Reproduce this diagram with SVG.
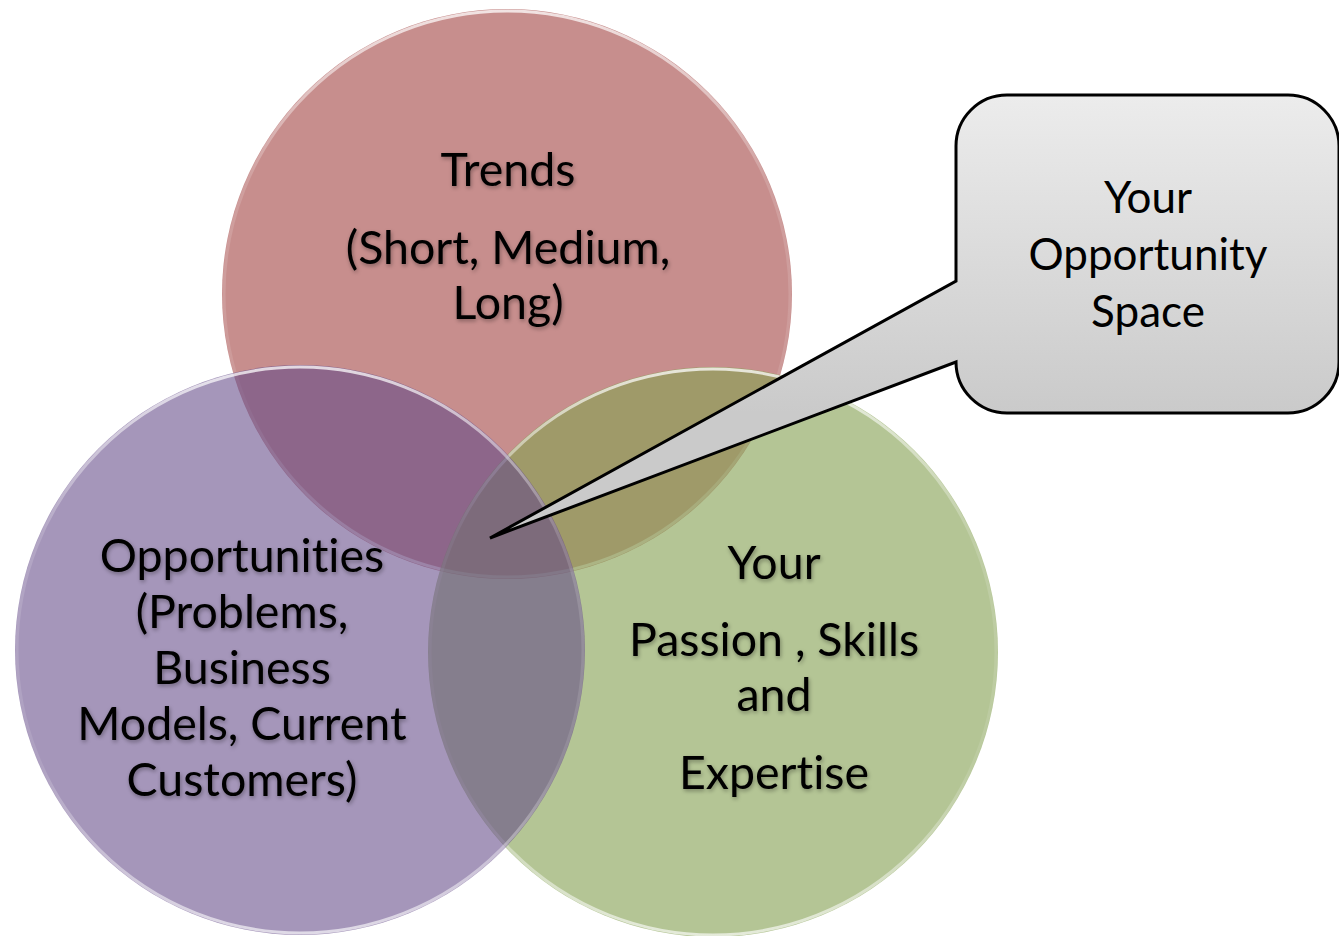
<svg xmlns="http://www.w3.org/2000/svg" width="1339" height="936" viewBox="0 0 1339 936">
<defs>
<style>
.lbl{font-family:Lato,"Open Sans","Liberation Sans",sans-serif;font-size:46.5px;fill:#000;text-anchor:middle;font-variant-ligatures:none;font-feature-settings:"liga" 0}
.cl{font-size:44px}
.ring{fill:none;stroke-width:3}
</style>
<filter id="sh" x="-10%" y="-10%" width="120%" height="130%">
<feGaussianBlur in="SourceAlpha" stdDeviation="2"/>
<feOffset dx="1" dy="2" result="b"/>
<feComponentTransfer><feFuncA type="linear" slope="0.35"/></feComponentTransfer>
<feMerge><feMergeNode/><feMergeNode in="SourceGraphic"/></feMerge>
</filter>
<linearGradient id="box" gradientUnits="userSpaceOnUse" x1="0" y1="95" x2="0" y2="413">
<stop offset="0" stop-color="#ECECEC"/>
<stop offset="1" stop-color="#CACACA"/>
</linearGradient>
<linearGradient id="hl" x1="0" y1="0" x2="0" y2="1">
<stop offset="0" stop-color="#fff" stop-opacity="0.75"/>
<stop offset="0.3" stop-color="#fff" stop-opacity="0.15"/>
<stop offset="0.7" stop-color="#fff" stop-opacity="0.1"/>
<stop offset="1" stop-color="#fff" stop-opacity="0.65"/>
</linearGradient>
</defs>
<rect width="1339" height="936" fill="#fff"/>
<g id="trends">
<circle cx="507" cy="294" r="285" fill="#C78E8D"/>
<circle cx="507" cy="294" r="283" class="ring" stroke="url(#hl)"/>
</g>
<g id="passion">
<circle cx="713" cy="652" r="285" fill="#86A154" fill-opacity="0.62"/>
<circle cx="713" cy="652" r="283" class="ring" stroke="url(#hl)"/>
</g>
<g id="opportunities">
<circle cx="300" cy="650" r="285" fill="#644A88" fill-opacity="0.58"/>
<circle cx="300" cy="650" r="283" class="ring" stroke="url(#hl)"/>
</g>
<g id="labels" filter="url(#sh)">
<text class="lbl" x="508" y="186">Trends</text>
<text class="lbl" x="508" y="264">(Short, Medium,</text>
<text class="lbl" x="508" y="319">Long)</text>
<text class="lbl" x="242" y="572">Opportunities</text>
<text class="lbl" x="242" y="628">(Problems,</text>
<text class="lbl" x="242" y="684">Business</text>
<text class="lbl" x="242" y="740">Models, Current</text>
<text class="lbl" x="242" y="796">Customers)</text>
<text class="lbl" x="774" y="579">Your</text>
<text class="lbl" x="774" y="656">Passion , Skills</text>
<text class="lbl" x="774" y="711">and</text>
<text class="lbl" x="774" y="789">Expertise</text>
</g>
<g id="connectors">
<path id="callout" d="M1007 95 H1288 A51 51 0 0 1 1339 146 V362 A51 51 0 0 1 1288 413 H1007 A51 51 0 0 1 956 362 L490 538 L956 281 V146 A51 51 0 0 1 1007 95 Z" fill="url(#box)" stroke="#000" stroke-width="3" stroke-linejoin="miter"/>
</g>
<g id="callout-text">
<text class="lbl cl" x="1148" y="213">Your</text>
<text class="lbl cl" x="1148" y="270">Opportunity</text>
<text class="lbl cl" x="1148" y="327">Space</text>
</g>
</svg>
